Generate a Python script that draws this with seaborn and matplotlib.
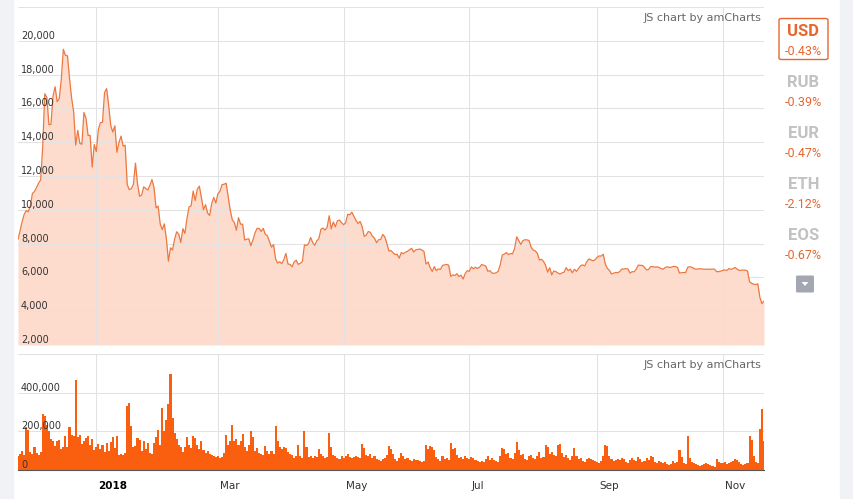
import matplotlib
matplotlib.use("Agg")
import matplotlib.pyplot as plt
import matplotlib.dates as mdates
import matplotlib.transforms as mtransforms
from matplotlib.patches import FancyBboxPatch, Rectangle, Polygon
import pandas as pd
import seaborn as sns

# daily BTC price (USD), 2017-11-24 .. 2018-11-21
price_nov17 = [8250, 8750, 9300, 9730, 9950, 9880, 10230]
price_dec17 = [10970, 11080, 11320, 11580, 11760, 13750, 16870, 16650, 15040, 15060,
               16730, 17280, 16400, 16570, 17710, 19500, 19140, 19110, 17780, 16620,
               15800, 13830, 14700, 13930, 13880, 15760, 15410, 14400, 14400, 12530, 13860]
price_jan18 = [13440, 14750, 15160, 15180, 16940, 17170, 16180, 14980, 14600, 14970,
               13400, 13980, 14360, 13770, 13820, 11490, 11190, 11250, 11510, 12760,
               11530, 10800, 10870, 11360, 11260, 11170, 11440, 11790, 11310, 10110, 10220]
price_feb18 = [9170, 8830, 9170, 8280, 6960, 7750, 7620, 8270, 8700, 8560,
               8060, 8880, 8600, 9490, 10170, 10230, 11110, 10550, 11220, 11400,
               10720, 10000, 10300, 9810, 9660, 10370, 10730, 10400]
price_mar18 = [10950, 11090, 11490, 11510, 11570, 10780, 9970, 9400, 9240, 8790,
               9530, 9150, 9150, 8210, 8260, 8280, 7870, 8220, 8630, 8900,
               8900, 8720, 8900, 8550, 8470, 8130, 7790, 7940, 7090, 6850, 6930]
price_apr18 = [6810, 7050, 7420, 6790, 6770, 6630, 6910, 7020, 6770, 6830,
               6940, 7920, 7890, 8000, 8360, 8060, 7900, 8160, 8290, 8850,
               8920, 8800, 8950, 9650, 8870, 9280, 8990, 9350, 9390, 9240]
price_may18 = [9120, 9230, 9740, 9700, 9860, 9620, 9370, 9190, 9310, 9010,
               8430, 8500, 8720, 8660, 8440, 8320, 8050, 8230, 8240, 8540,
               8400, 8000, 7560, 7590, 7460, 7350, 7370, 7140, 7470, 7400, 7490]
price_jun18 = [7540, 7640, 7720, 7500, 7630, 7650, 7680, 7620, 7530, 6790,
               6910, 6580, 6350, 6640, 6400, 6500, 6470, 6710, 6740, 6770,
               6720, 6060, 6150, 6110, 6220, 6050, 6130, 5900, 6220, 6400]
price_jul18 = [6360, 6620, 6510, 6600, 6530, 6600, 6760, 6720, 6670, 6360,
               6400, 6260, 6240, 6270, 6360, 6740, 7320, 7380, 7470, 7350,
               7410, 7400, 7720, 8400, 8170, 7950, 8170, 8230, 8220, 8180, 7780]
price_aug18 = [7620, 7570, 7430, 7030, 7070, 6950, 6720, 6310, 6570, 6150,
               6380, 6340, 6260, 6190, 6270, 6310, 6580, 6400, 6490, 6270,
               6480, 6360, 6530, 6690, 6740, 6680, 6920, 7090, 7040, 6980, 7040]
price_sep18 = [7190, 7270, 7260, 7370, 6790, 6530, 6410, 6200, 6250, 6290,
               6280, 6340, 6500, 6490, 6520, 6500, 6250, 6340, 6330, 6490,
               6730, 6710, 6710, 6600, 6440, 6470, 6640, 6640, 6600, 6630]
price_oct18 = [6590, 6530, 6480, 6580, 6630, 6590, 6600, 6650, 6640, 6590,
               6250, 6280, 6290, 6290, 6600, 6630, 6600, 6520, 6490, 6500,
               6510, 6500, 6480, 6490, 6480, 6480, 6490, 6490, 6340, 6340, 6370]
price_nov18 = [6410, 6440, 6410, 6520, 6480, 6520, 6590, 6480, 6410, 6420,
               6440, 6420, 6380, 5740, 5650, 5600, 5580, 5620, 4820, 4450, 4600]

# daily volume, thousands
vol_nov17 = [75, 85, 100, 80, 225, 205, 95]
vol_dec17 = [85, 120, 90, 80, 95, 290, 280, 235, 200, 160,
             150, 125, 150, 155, 110, 120, 175, 120, 225, 180,
             175, 465, 170, 180, 135, 150, 165, 175, 130, 160, 105]
vol_jan18 = [120, 135, 110, 130, 95, 140, 100, 145, 170, 115,
             175, 80, 85, 80, 90, 330, 345, 230, 120, 125,
             165, 155, 100, 150, 110, 140, 90, 85, 140, 170, 205]
vol_feb18 = [130, 320, 200, 260, 340, 495, 270, 190, 160, 130,
             120, 95, 120, 170, 130, 115, 175, 165, 130, 110,
             150, 105, 90, 100, 85, 80, 70, 65]
vol_mar18 = [75, 60, 65, 90, 180, 130, 150, 235, 150, 160,
             130, 150, 185, 120, 100, 130, 200, 170, 100, 115,
             90, 85, 80, 125, 100, 85, 100, 85, 230, 150, 120]
vol_apr18 = [110, 120, 115, 95, 85, 80, 60, 70, 130, 70,
             60, 200, 120, 65, 70, 60, 75, 65, 110, 85,
             70, 60, 65, 190, 120, 80, 70, 60, 55, 70]
vol_may18 = [60, 70, 85, 65, 60, 65, 70, 65, 60, 135,
             115, 80, 75, 85, 60, 70, 55, 50, 45, 55,
             60, 80, 125, 110, 85, 55, 45, 60, 90, 70, 55]
vol_jun18 = [60, 50, 45, 55, 50, 50, 45, 40, 45, 130,
             110, 125, 120, 105, 65, 55, 45, 70, 55, 60,
             50, 140, 110, 115, 80, 60, 65, 55, 70, 60]
vol_jul18 = [55, 65, 60, 50, 45, 40, 45, 40, 55, 70,
             50, 60, 50, 45, 40, 75, 115, 110, 85, 90,
             60, 55, 90, 145, 105, 80, 85, 55, 50, 75, 80]
vol_aug18 = [60, 55, 75, 95, 60, 65, 130, 120, 85, 95,
             80, 70, 130, 135, 90, 65, 80, 60, 50, 70,
             115, 75, 55, 60, 45, 40, 55, 60, 55, 50, 45]
vol_sep18 = [40, 35, 45, 70, 130, 125, 75, 55, 45, 50,
             55, 50, 60, 55, 40, 35, 50, 60, 50, 45,
             65, 55, 40, 45, 60, 50, 70, 65, 40, 35]
vol_oct18 = [45, 40, 35, 40, 30, 25, 30, 45, 35, 40,
             105, 65, 35, 30, 178, 60, 40, 35, 30, 25,
             20, 25, 30, 35, 30, 25, 20, 18, 55, 40, 35]
vol_nov18 = [35, 40, 30, 35, 40, 45, 58, 50, 40, 30,
             25, 30, 35, 178, 155, 70, 40, 35, 210, 316, 150]

month_starts = ["2018-01-01", "2018-03-01", "2018-05-01", "2018-07-01", "2018-09-01", "2018-11-01"]
month_labels = ["2018", "Mar", "May", "Jul", "Sep", "Nov"]

currencies = ["USD", "RUB", "EUR", "ETH", "EOS"]
changes = ["-0.43%", "-0.39%", "-0.47%", "-2.12%", "-0.67%"]

price = (price_nov17 + price_dec17 + price_jan18 + price_feb18 + price_mar18 + price_apr18
         + price_may18 + price_jun18 + price_jul18 + price_aug18 + price_sep18 + price_oct18 + price_nov18)
volume = (vol_nov17 + vol_dec17 + vol_jan18 + vol_feb18 + vol_mar18 + vol_apr18
          + vol_may18 + vol_jun18 + vol_jul18 + vol_aug18 + vol_sep18 + vol_oct18 + vol_nov18)

df = pd.DataFrame({"date": pd.date_range("2017-11-24", periods=len(price), freq="D"),
                   "price": price,
                   "volume": [v * 1000 for v in volume]})

sns.set_style("white")
plt.rcParams["font.family"] = ["DejaVu Sans"]

LINE = "#ec7840"
FILL = "#fddccd"
BAR = "#fa5f10"
GRID = "#e2e2e2"
ORANGE = "#e5672f"

W, H = 854, 499
fig = plt.figure(figsize=(W / 100, H / 100), dpi=100)


def fx(px):
    return px / W


def fy(py):
    return 1 - py / H


# grey side strips
fig.patches.append(Rectangle((0, 0), fx(13), 1, transform=fig.transFigure, color="#f1f2f5", zorder=0))
fig.patches.append(Rectangle((fx(840), 0), 1 - fx(840), 1, transform=fig.transFigure, color="#f1f2f5", zorder=0))

ax1 = fig.add_axes([fx(18), fy(345), (764 - 18) / W, (345 - 7) / H])
ax2 = fig.add_axes([fx(18), fy(470), (764 - 18) / W, (470 - 354) / H])

xmin, xmax = df["date"].iloc[0], df["date"].iloc[-1]
mstarts = pd.to_datetime(month_starts)

# price panel
ax1.fill_between(df["date"], 2000, df["price"], color=FILL, lw=0, zorder=1)
sns.lineplot(data=df, x="date", y="price", ax=ax1, color=LINE, linewidth=0.9, zorder=3)
ax1.set_xlim(xmin, xmax)
ax1.set_ylim(2000, 22000)
ax1.set_yticks(range(2000, 22001, 2000))
ax1.set_xticks(mstarts)
ax1.grid(True, color=GRID, lw=0.75)
ax1.set_axisbelow("line")

# volume panel
ax2.bar(df["date"], df["volume"], width=1.0, color=BAR, lw=0, zorder=2)
ax2.set_xlim(xmin, xmax)
ax2.set_ylim(0, 600000)
ax2.set_yticks([0, 200000, 400000, 600000])
ax2.set_xticks(mstarts)
ax2.grid(True, color=GRID, lw=0.75)
ax2.set_axisbelow(True)

for ax in (ax1, ax2):
    ax.set_xlabel("")
    ax.set_ylabel("")
    ax.tick_params(length=0, labelbottom=False, labelleft=False)
    for s in ax.spines.values():
        s.set_visible(False)
ax2.spines["bottom"].set_visible(True)
ax2.spines["bottom"].set_color("#555555")
ax2.spines["bottom"].set_linewidth(0.8)


def ytext(ax, v, txt):
    base = mtransforms.blended_transform_factory(ax.transAxes, ax.transData)
    tr = mtransforms.offset_copy(base, fig=fig, x=3, y=2, units="dots")
    ax.text(0, v, txt, transform=tr, ha="left", va="baseline", fontsize=7, color="#333333", zorder=5)


for v in range(2000, 20001, 2000):
    ytext(ax1, v, f"{v:,}")
for v in [0, 200000, 400000]:
    ytext(ax2, v, f"{v:,}")

# month labels under the volume panel
xb = mtransforms.blended_transform_factory(ax2.transData, ax2.transAxes)
xtr = mtransforms.offset_copy(xb, fig=fig, x=2, y=-19, units="dots")
for d, lab in zip(mstarts, month_labels):
    ax2.text(mdates.date2num(d), 0, lab, transform=xtr, ha="left", va="baseline",
             fontsize=7.5, color="#000000" if lab == "2018" else "#333333",
             fontweight="bold" if lab == "2018" else "normal", clip_on=False)

# watermarks
for ax in (ax1, ax2):
    tr = mtransforms.offset_copy(ax.transAxes, fig=fig, x=-3, y=-14, units="dots")
    ax.text(1, 1, "JS chart by amCharts", transform=tr, ha="right", va="baseline",
            fontsize=8, color="#666666", zorder=5)

# currency selector
fig.patches.append(FancyBboxPatch((fx(779), fy(59.5)), fx(828) - fx(779), fy(18.5) - fy(59.5),
                                  boxstyle="round,pad=0,rounding_size=0.003",
                                  transform=fig.transFigure, facecolor="white",
                                  edgecolor=ORANGE, lw=1.0, zorder=1))
name_base = [36, 87.3, 138.3, 189.3, 240]
chg_base = [55, 106, 157.3, 208.3, 259.3]
for i, (cur, chg) in enumerate(zip(currencies, changes)):
    fig.text(fx(803.5), fy(name_base[i]), cur, ha="center", va="baseline", family="Roboto",
             fontweight="bold", fontsize=12, color=ORANGE if i == 0 else "#c2c2c2", zorder=3)
    fig.text(fx(803.5), fy(chg_base[i]), chg, ha="center", va="baseline", family="Roboto",
             fontsize=9, color=ORANGE, zorder=3)

fig.patches.append(FancyBboxPatch((fx(796), fy(292.5)), fx(814) - fx(796), fy(275.5) - fy(292.5),
                                  boxstyle="round,pad=0,rounding_size=0.002",
                                  transform=fig.transFigure, facecolor="#a3a7b2",
                                  edgecolor="none", zorder=1))
fig.patches.append(Polygon([(fx(801.5), fy(282)), (fx(808.5), fy(282)), (fx(805), fy(286))],
                           closed=True, transform=fig.transFigure, facecolor="white",
                           edgecolor="none", zorder=2))

fig.savefig("out.png", dpi=100)
